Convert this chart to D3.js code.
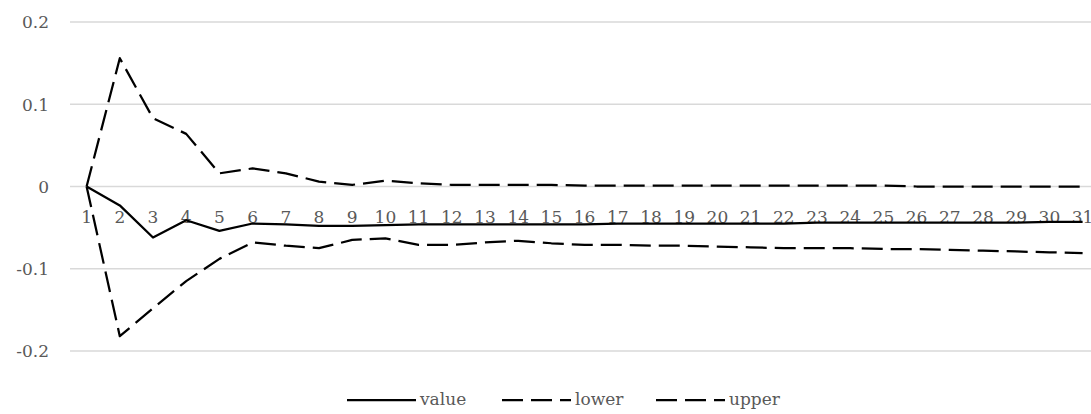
<!DOCTYPE html>
<html>
<head>
<meta charset="utf-8">
<script src="https://cdn.jsdelivr.net/npm/d3@7"></script>
<style>
  html, body { margin: 0; padding: 0; background: #fff; overflow: hidden; }
  svg { display: block; }
  text { font-family: "DejaVu Serif", "Liberation Serif", serif; fill: #595959; }
</style>
</head>
<body>
<svg id="chart" width="1091" height="414"></svg>
<script>
// Periods 1..31
const categories = d3.range(1, 32).map(String);

const valueSeries = [0, -0.023, -0.062, -0.041, -0.054, -0.045, -0.046, -0.048, -0.048, -0.047,
  -0.046, -0.046, -0.046, -0.046, -0.046, -0.046, -0.045, -0.045, -0.045, -0.045,
  -0.045, -0.045, -0.044, -0.044, -0.044, -0.044, -0.044, -0.044, -0.044, -0.043, -0.043];

const lowerSeries = [0, -0.182, -0.148, -0.115, -0.088, -0.068, -0.072, -0.075, -0.065, -0.063,
  -0.071, -0.071, -0.068, -0.066, -0.069, -0.071, -0.071, -0.072, -0.072, -0.073,
  -0.074, -0.075, -0.075, -0.075, -0.076, -0.076, -0.077, -0.078, -0.079, -0.080, -0.081];

const upperSeries = [0, 0.156, 0.083, 0.064, 0.016, 0.022, 0.016, 0.006, 0.002, 0.007,
  0.004, 0.002, 0.002, 0.002, 0.002, 0.001, 0.001, 0.001, 0.001, 0.001,
  0.001, 0.001, 0.001, 0.001, 0.001, 0, 0, 0, 0, 0, 0];

const yTicks = [-0.2, -0.1, 0, 0.1, 0.2];
const yTickLabels = ["-0.2", "-0.1", "0", "0.1", "0.2"];

const seriesNames = ["value", "lower", "upper"];

const series = [
  { name: seriesNames[0], values: valueSeries, dash: null },
  { name: seriesNames[1], values: lowerSeries, dash: "21,8" },
  { name: seriesNames[2], values: upperSeries, dash: "21,8" }
];

const svg = d3.select("#chart");
const fontSize = 17;

const x = d3.scaleBand().domain(categories).range([70, 70 + 31 * 33.2]);
const y = d3.scaleLinear().domain([-0.2, 0.2]).range([351, 22]);

// Horizontal gridlines
svg.append("g")
  .selectAll("line")
  .data(yTicks)
  .join("line")
  .attr("x1", 70)
  .attr("x2", 1091)
  .attr("y1", d => y(d))
  .attr("y2", d => y(d))
  .attr("stroke", "#d9d9d9")
  .attr("stroke-width", 1.5);

// Y axis labels
const yAxis = d3.axisLeft(y)
  .tickValues(yTicks)
  .tickFormat((d, i) => yTickLabels[i])
  .tickSize(0)
  .tickPadding(0);

const yG = svg.append("g")
  .attr("transform", "translate(49,0)")
  .call(yAxis);
yG.select(".domain").remove();
yG.selectAll("text")
  .attr("font-size", fontSize)
  .attr("font-family", null)
  .attr("fill", "#595959")
  .attr("dy", "0.35em");

// Category labels along the zero line
const xAxis = d3.axisBottom(x).tickSize(0).tickPadding(0);
const xG = svg.append("g")
  .attr("transform", `translate(0,${y(0)})`)
  .call(xAxis);
xG.select(".domain").remove();
xG.selectAll("text")
  .attr("font-size", fontSize)
  .attr("font-family", null)
  .attr("fill", "#595959")
  .attr("dy", null)
  .attr("y", 36);

// Series lines
const line = d3.line()
  .x((d, i) => x(categories[i]) + x.bandwidth() / 2)
  .y(d => y(d));

svg.append("g")
  .selectAll("path")
  .data(series)
  .join("path")
  .attr("d", d => line(d.values))
  .attr("fill", "none")
  .attr("stroke", "#000")
  .attr("stroke-width", 2.25)
  .attr("stroke-linejoin", "round")
  .attr("stroke-dasharray", d => d.dash);

// Legend
const legendX = [347, 502, 656];
const legend = svg.append("g")
  .selectAll("g")
  .data(series)
  .join("g")
  .attr("transform", (d, i) => `translate(${legendX[i]},400)`);

legend.append("line")
  .attr("x1", 0)
  .attr("x2", 69)
  .attr("y1", 0)
  .attr("y2", 0)
  .attr("stroke", "#000")
  .attr("stroke-width", 2.25)
  .attr("stroke-dasharray", d => d.dash);

legend.append("text")
  .attr("x", 73)
  .attr("y", 0)
  .attr("dy", "0.32em")
  .attr("font-size", fontSize)
  .text(d => d.name);
</script>
</body>
</html>
